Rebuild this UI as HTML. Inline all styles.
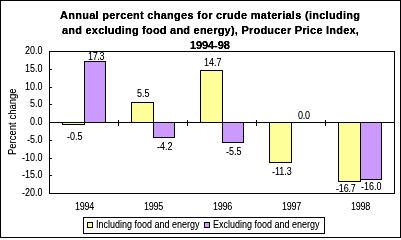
<!DOCTYPE html>
<html><head><meta charset="utf-8">
<style>
html,body{margin:0;padding:0;background:#fff;}
body{width:401px;height:238px;position:relative;overflow:hidden;font-family:"Liberation Sans",sans-serif;color:#000;}
svg{position:absolute;left:0;top:0;}
#txt,#ttl{position:absolute;left:0;top:0;width:401px;height:238px;filter:url(#th);}
#ttl{filter:url(#tb);}
.t{position:absolute;white-space:nowrap;line-height:1;font-size:10px;transform:scaleX(0.9);transform-origin:0 0;}
.b{font-weight:bold;font-size:11px;transform:none;}
</style></head><body>
<svg width="0" height="0" style="position:absolute"><filter id="th" x="0" y="0" width="100%" height="100%"><feComponentTransfer><feFuncA type="linear" slope="1.15" intercept="0"/></feComponentTransfer></filter><filter id="tb" x="0" y="0" width="100%" height="100%"><feComponentTransfer><feFuncA type="linear" slope="1.6" intercept="0"/></feComponentTransfer></filter></svg>
<svg class="main" width="401" height="238" shape-rendering="crispEdges">
<rect x="0.5" y="0.5" width="400" height="237" fill="#fff" stroke="#000" stroke-width="1"/>
<rect x="49.5" y="51.5" width="345" height="142" fill="#fff" stroke="#000"/>
<g stroke="#000" fill="#FFFF99">
<rect x="62.5" y="122.5" width="22" height="2"/>
<rect x="131.5" y="102.5" width="22" height="20"/>
<rect x="200.5" y="70.5" width="22" height="52"/>
<rect x="269.5" y="122.5" width="22" height="40"/>
<rect x="338.5" y="122.5" width="22" height="59"/>
</g>
<g stroke="#000" fill="#CC99FF">
<rect x="84.5" y="61.5" width="21" height="61"/>
<rect x="153.5" y="122.5" width="21" height="15"/>
<rect x="222.5" y="122.5" width="21" height="20"/>
<rect x="360.5" y="122.5" width="21" height="57"/>
</g>
<path stroke="#000" fill="none" d="M49 122.5H395M50 69.5H52M50 87.5H52M50 104.5H52M50 140.5H52M50 158.5H52M50 175.5H52M118.5 120V126M187.5 120V126M256.5 120V126M325.5 120V126"/>
<rect x="83.5" y="217.5" width="241" height="16" fill="#fff" stroke="#000"/>
<rect x="87.5" y="222.5" width="5" height="5" fill="#FFFF99" stroke="#000"/>
<rect x="204.5" y="222.5" width="5" height="5" fill="#CC99FF" stroke="#000"/>
</svg>
<div id="ttl">
<div class="t b" id="t1" style="left:60px;top:10px;letter-spacing:0.28px;">Annual percent changes for crude materials (including</div>
<div class="t b" id="t2" style="left:62px;top:25px;letter-spacing:0.22px;">and excluding food and energy), Producer Price Index,</div>
<div class="t b" id="t3" style="left:190px;top:40px;letter-spacing:-0.1px;">1994-98</div>
</div>
<div id="txt">

<div class="t" style="left:25px;top:46px;">20.0</div>
<div class="t" style="left:25px;top:64px;">15.0</div>
<div class="t" style="left:25px;top:82px;">10.0</div>
<div class="t" style="left:30px;top:99px;">5.0</div>
<div class="t" style="left:30px;top:117px;">0.0</div>
<div class="t" style="left:27px;top:135px;">-5.0</div>
<div class="t" style="left:22px;top:153px;">-10.0</div>
<div class="t" style="left:22px;top:170px;">-15.0</div>
<div class="t" style="left:22px;top:188px;">-20.0</div>

<div class="t" id="yl" style="left:8px;top:155px;transform:rotate(-90deg) scaleX(0.95);transform-origin:0 0;">Percent change</div>

<div class="t" style="left:75px;top:202px;letter-spacing:-0.3px;">1994</div>
<div class="t" style="left:144px;top:202px;letter-spacing:-0.3px;">1995</div>
<div class="t" style="left:213px;top:202px;letter-spacing:-0.3px;">1996</div>
<div class="t" style="left:282px;top:202px;letter-spacing:-0.3px;">1997</div>
<div class="t" style="left:351px;top:202px;letter-spacing:-0.3px;">1998</div>

<div class="t" style="left:67px;top:132px;">-0.5</div>
<div class="t" style="left:88px;top:52px;letter-spacing:-0.4px;">17.3</div>
<div class="t" style="left:137px;top:89px;">5.5</div>
<div class="t" style="left:157px;top:142px;">-4.2</div>
<div class="t" style="left:204px;top:58px;">14.7</div>
<div class="t" style="left:226px;top:147px;">-5.5</div>
<div class="t" style="left:272px;top:167px;">-11.3</div>
<div class="t" style="left:298px;top:111px;letter-spacing:-0.3px;">0.0</div>
<div class="t" style="left:335.5px;top:184px;letter-spacing:-0.2px;">-16.7</div>
<div class="t" style="left:361px;top:182px;">-16.0</div>

<div class="t" style="left:96px;top:220px;">Including food and energy</div>
<div class="t" style="left:213px;top:220px;">Excluding food and energy</div>
</div>
</body></html>
